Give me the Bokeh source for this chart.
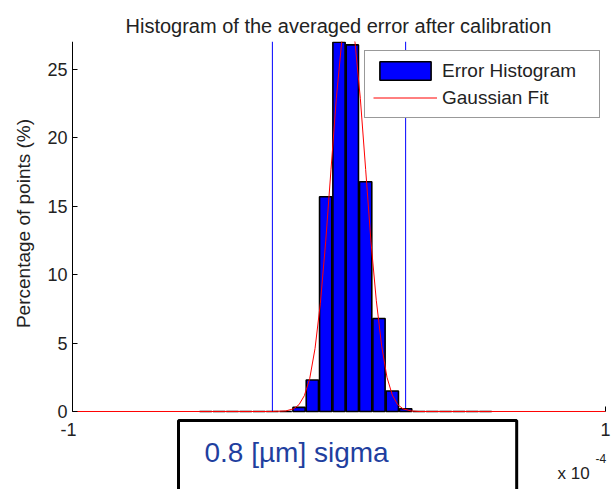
import math
from bokeh.plotting import figure
from bokeh.models import Range1d, FixedTicker, Label, Legend, LegendItem, LinearAxis
from bokeh.core.properties import value
from bokeh.embed import file_html
from bokeh.resources import INLINE

# ---- data (x in units of 1e-4) ----
bin_centers = [-0.50, -0.45, -0.40, -0.35, -0.30, -0.25, -0.20, -0.15, -0.10, -0.05, 0.00,
               0.05, 0.10, 0.15, 0.20, 0.25, 0.30, 0.35, 0.40, 0.45, 0.50, 0.55]
percent = [0, 0, 0, 0, 0, 0, 0, 0.3, 2.3, 15.7, 27.0,
           26.8, 16.8, 6.8, 1.5, 0.2, 0, 0, 0, 0, 0, 0]

fit_x = [-1.00, -0.25, -0.20, -0.17, -0.15, -0.13, -0.11, -0.09, -0.07, -0.05, -0.03, -0.01,
         0.01, 0.035, 0.06, 0.08, 0.10, 0.12, 0.14, 0.16, 0.18, 0.20, 0.22, 0.24, 0.27, 0.30, 1.00]
fit_y = [0, 0, 0.04, 0.2, 0.5, 1.16, 2.4, 4.6, 7.9, 12.4, 17.7, 22.9,
         27.0, 29.1, 27.0, 22.9, 17.7, 12.4, 8.1, 4.8, 2.5, 1.2, 0.5, 0.2, 0.04, 0, 0]

sigma_lines = [-0.25, 0.25]
x_ticks = [-1, 1]
x_tick_labels = ["-1", "1"]
y_ticks = [0, 5, 10, 15, 20, 25]
y_tick_labels = ["0", "5", "10", "15", "20", "25"]
y_max = 27.05

FONT = "Liberation Sans"
TXT = "#222222"

# frame covers the canvas below the title; axes sit at x=-1 / y=0 inside it
p = figure(width=611, height=489,
           x_range=Range1d(-1.2702, 1.0225), y_range=Range1d(-5.703, y_max),
           x_axis_type=None, y_axis_type=None,
           output_backend="svg", toolbar_location=None,
           min_border_left=0, min_border_right=0, min_border_top=41, min_border_bottom=0,
           title="Histogram of the averaged error after calibration")
p.outline_line_color = None
p.grid.visible = False
p.background_fill_color = "white"
p.border_fill_color = "white"

p.title.text_font = FONT
p.title.text_font_size = "20px"
p.title.text_font_style = "normal"
p.title.text_color = TXT
p.title.align = "left"
p.title.offset = 125

def make_axis(loc, bounds, ticks, line_color):
    ax = LinearAxis(fixed_location=loc, bounds=bounds, ticker=FixedTicker(ticks=ticks),
                    axis_line_color=line_color, axis_line_width=1,
                    major_tick_in=5, major_tick_out=0, minor_tick_line_color=None,
                    major_tick_line_color="black", major_label_text_font_size="0px",
                    major_label_text_color=None, major_label_standoff=0)
    return ax

p.add_layout(make_axis(-1, (0, y_max), y_ticks, "black"), "left")
p.add_layout(make_axis(0, (-1, 1), x_ticks, None), "below")

# tick labels through the scales
p.text(x=[x_ticks[0]] * len(y_ticks), y=y_ticks, text=y_tick_labels, x_offset=-5,
       text_align="right", text_baseline="middle", text_font=value(FONT),
       text_font_size="18px", text_color=TXT)
p.text(x=x_ticks, y=[0] * len(x_ticks), text=x_tick_labels, x_offset=[-4, 0], y_offset=12,
       text_align="center", text_baseline="top", text_font=value(FONT),
       text_font_size="18px", text_color=TXT)

# sigma limits
p.segment(x0=sigma_lines, y0=[0] * len(sigma_lines), x1=sigma_lines,
          y1=[y_max] * len(sigma_lines), line_color="#0000ff", line_width=1)

bars = p.vbar(x=bin_centers, top=percent, width=0.046, bottom=0,
              fill_color="#0000ff", line_color="black", line_width=1.6)
fit = p.line(fit_x, fit_y, line_color="#ff0000", line_width=1)

legend = Legend(items=[LegendItem(label="Error Histogram", renderers=[bars]),
                       LegendItem(label="Gaussian Fit", renderers=[fit])],
                location=(364, 371), glyph_width=64, glyph_height=23, label_height=23,
                label_standoff=5, spacing=4, padding=8, margin=0, label_width=149,
                border_line_color="#333333", border_line_width=1.5,
                background_fill_color="white", background_fill_alpha=1,
                label_text_font=FONT, label_text_font_size="19px", label_text_color=TXT)
p.add_layout(legend)

p.add_layout(Label(x=23, y=266, x_units="screen", y_units="screen",
                   text="Percentage of points (%)", angle=math.pi / 2,
                   text_align="center", text_baseline="middle",
                   text_font=FONT, text_font_size="19px", text_color=TXT))

box = Label(x=178, y=69, x_units="screen", y_units="screen", text="0.8 [µm] sigma",
            text_font=FONT, text_font_size="28px", text_color="#1f3f9f",
            anchor="top_left", text_align="left", text_baseline="top",
            padding=dict(left=26, right=128, top=16, bottom=80),
            border_line_color="black", border_line_width=3,
            background_fill_color="white", background_fill_alpha=1)
p.add_layout(box)

p.add_layout(Label(x=557, y=16, x_units="screen", y_units="screen", text="x 10",
                   text_font=FONT, text_font_size="17px", text_color=TXT,
                   text_baseline="alphabetic"))
p.add_layout(Label(x=595, y=31, x_units="screen", y_units="screen", text="-4",
                   text_font=FONT, text_font_size="12px", text_color=TXT,
                   text_baseline="alphabetic"))

open("out.html", "w").write(file_html(p, INLINE))
